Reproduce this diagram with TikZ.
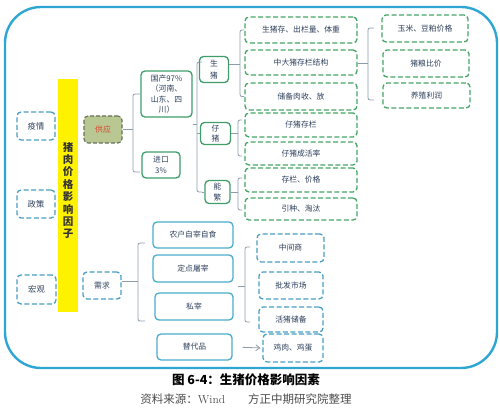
\documentclass[tikz,border=0pt]{standalone}
\usepackage{fontspec}
\newfontfamily\cjk{Noto Sans CJK SC}
\usetikzlibrary{arrows.meta}
\definecolor{outerc}{HTML}{2EA6D4}
\definecolor{bdash}{HTML}{4A9EC4}
\definecolor{bsolid}{HTML}{4AACCC}
\definecolor{gsolid}{HTML}{3E9E6A}
\definecolor{gdash}{HTML}{45A465}
\definecolor{brkc}{HTML}{8C9CAB}
\definecolor{txtc}{HTML}{2C3E5A}
\definecolor{supfill}{HTML}{B9C793}
\definecolor{supdraw}{HTML}{66705A}
\definecolor{redt}{HTML}{D9452F}
\newcommand\mybrk[4]{\draw[brk] (#1+#4,#2) -- (#1,#2) -- (#1,#3) -- (#1+#4,#3);}
\begin{document}
\begin{tikzpicture}[x=1pt,y=-1pt,
  base/.style={inner sep=0pt, align=center, text=txtc, font=\cjk\fontsize{7.8}{10.3}\selectfont, rounded corners=4pt},
  bdbox/.style={base, draw=bdash, line width=1.3pt, dash pattern=on 5pt off 2.5pt},
  bsbox/.style={base, draw=bsolid, line width=1.3pt},
  gsbox/.style={base, draw=gsolid, line width=1.3pt},
  gdbox/.style={base, draw=gdash, line width=1.3pt, dash pattern=on 5pt off 2.5pt},
  brk/.style={draw=brkc, line width=0.8pt, rounded corners=2pt},
  conn/.style={draw=brkc, line width=0.8pt}
]
\useasboundingbox (0,0) rectangle (500,411);
\draw[outerc, line width=2.4pt, rounded corners=36pt] (5,7) rectangle (497,368);

% left column
\node[bdbox, minimum width=38pt, minimum height=28pt, font=\cjk\fontsize{8.3}{10}\selectfont] (ey) at (36,126) {疫情};
\node[bdbox, minimum width=38pt, minimum height=28pt, font=\cjk\fontsize{8.3}{10}\selectfont] (zc) at (36,204) {政策};
\node[bdbox, minimum width=39pt, minimum height=29pt, font=\cjk\fontsize{8.3}{10}\selectfont] (hg) at (36.5,289.5) {宏观};
\node[fill=yellow, inner sep=0pt, minimum width=20pt, minimum height=233pt] (bar) at (68,195.5) {};
\node[inner sep=0pt, align=center, font=\cjk\bfseries\fontsize{10.5}{12.4}\selectfont, text=black!80] (bartxt) at (68,190.5)
  {猪\\肉\\价\\格\\影\\响\\因\\子};

\node[base, fill=supfill, draw=supdraw, line width=1.1pt, dash pattern=on 4pt off 2pt,
  minimum width=38pt, minimum height=27pt, text=redt] (gy) at (103,129.5) {供应};
\node[bdbox, minimum width=38pt, minimum height=27pt] (xq) at (102,285.5) {需求};

% supply
\node[gsbox, minimum width=51pt, minimum height=46pt] (gc) at (166.5,94) {国产97\%\\（河南、\\山东、四\\川）};
\node[gsbox, minimum width=38pt, minimum height=26pt] (jk) at (161,165) {进口\\3\%};
\coordinate (b1) at (133,129.5);
\draw[conn] (gy.east) -- (b1);
\mybrk{133}{94}{172}{7}

\node[gsbox, minimum width=29pt, minimum height=26pt, font=\cjk\fontsize{7.8}{12}\selectfont] (sz) at (214,69.5) {生\\猪};
\node[gsbox, minimum width=30pt, minimum height=22pt] (zz) at (215.5,133.5) {仔\\猪};
\node[gsbox, minimum width=25pt, minimum height=23pt] (nf) at (217.5,192) {能\\繁};
\coordinate (b2) at (197,124);
\draw[conn] (gc.east |- b2) -- (b2);
\mybrk{197}{62}{192}{5}
\draw[conn] (197,133.5) -- (zz.west);
\draw[conn] (202,192) -- (nf.west);

\node[gdbox, minimum width=112pt, minimum height=26pt] (g1) at (301,30) {生猪存、出栏量、体重};
\node[gdbox, minimum width=112pt, minimum height=25pt] (g2) at (301,62.5) {中大猪存栏结构};
\node[gdbox, minimum width=112pt, minimum height=27pt] (g3) at (301,96.5) {储备肉收、放};
\node[gdbox, minimum width=112pt, minimum height=24pt] (g4) at (301,125) {仔猪存栏};
\node[gdbox, minimum width=112pt, minimum height=23pt] (g5) at (301,153.5) {仔猪成活率};
\node[gdbox, minimum width=112pt, minimum height=24pt] (g6) at (301,180) {存栏、价格};
\node[gdbox, minimum width=112pt, minimum height=22pt] (g7) at (301,209) {引种、淘汰};

\coordinate (b3) at (240,64);
\draw[conn] (sz.east |- b3) -- (b3);
\mybrk{240}{30}{96.5}{4}
\coordinate (b4) at (238,133.5);
\draw[conn] (zz.east |- b4) -- (b4);
\mybrk{238}{120}{156}{4}
\coordinate (b5) at (238,192);
\draw[conn] (nf.east |- b5) -- (b5);
\mybrk{238}{178}{210}{4}

\node[gdbox, minimum width=86pt, minimum height=27pt] (r1) at (425,28.5) {玉米、豆粕价格};
\node[gdbox, minimum width=86pt, minimum height=27pt] (r2) at (426,63.5) {猪粮比价};
\node[gdbox, minimum width=87pt, minimum height=25pt] (r3) at (426.5,95.5) {养殖利润};
\coordinate (b6) at (368,63);
\draw[conn] (g2.east |- b6) -- (b6);
\mybrk{368}{28}{100}{6}

% demand
\coordinate (b7) at (138,281);
\draw[conn] (xq.east |- b7) -- (b7);
\mybrk{138}{243}{321}{7}
\node[bsbox, minimum width=80pt, minimum height=26pt] (d1) at (193,235) {农户自宰自食};
\node[bsbox, minimum width=80pt, minimum height=27pt] (d2) at (193,268.5) {定点屠宰};
\node[bsbox, minimum width=78pt, minimum height=27pt] (d3) at (194,306.5) {私宰};
\node[bsbox, minimum width=75pt, minimum height=26pt] (d4) at (194.5,347) {替代品};

\node[bdbox, minimum width=67pt, minimum height=28pt] (m1) at (290.5,248) {中间商};
\node[bdbox, minimum width=64pt, minimum height=27pt] (m2) at (291,285.5) {批发市场};
\node[bdbox, minimum width=64pt, minimum height=25pt] (m3) at (291,319.5) {活猪储备};
\node[bdbox, minimum width=60pt, minimum height=28pt] (m4) at (293,348) {鸡肉、鸡蛋};
\coordinate (b8s) at (238,286);
\coordinate (b8) at (245,286);
\draw[conn] (b8s) -- (b8);
\mybrk{245}{247}{322}{5}
\draw[conn, -{Straight Barb[length=4pt,width=6pt]}, shorten <=10pt, shorten >=2pt] (d4.east) -- (m4.west);

% caption
\node[font=\cjk\bfseries\fontsize{12.5}{14}\selectfont, text=black] (cap) at (246,380) {图 6-4：生猪价格影响因素};
\node[font=\cjk\fontsize{11.5}{13}\selectfont, text=black!70] (src) at (246,399) {资料来源：{\rmfamily Wind}\quad\quad 方正中期研究院整理};
\end{tikzpicture}
\end{document}
